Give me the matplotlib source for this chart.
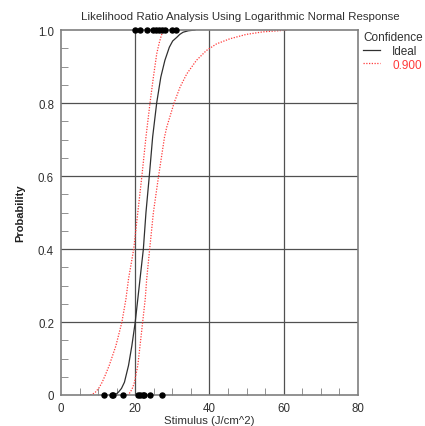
import numpy as np
import matplotlib.pyplot as plt
from matplotlib.ticker import MultipleLocator

plt.rcParams['font.family'] = ['Liberation Sans', 'DejaVu Sans']

# ---------------------------
# Observed responses
# ---------------------------
x_fail = [11.7, 13.7, 14.0, 16.6, 20.7, 21.4, 22.0, 22.5, 23.9, 27.2]
x_pass = [20.0, 21.3, 23.3, 24.8, 25.6, 26.4, 27.2, 28.0, 29.8, 31.1]

# ---------------------------
# Ideal (fitted) curve
# ---------------------------
ideal_x = [14.6, 15.5, 16.3, 17.1, 18.2, 19.1, 20.0, 20.7, 21.3, 22.2, 22.9,
           23.8, 24.7, 25.8, 26.9, 28.0, 29.2, 30.1, 31.2, 32.0, 32.9, 34.3, 36.1]
ideal_p = [0.0, 0.008, 0.018, 0.035, 0.081, 0.135, 0.199, 0.263, 0.318, 0.40, 0.50,
           0.60, 0.707, 0.801, 0.871, 0.917, 0.953, 0.970, 0.980, 0.988, 0.994, 0.998, 1.0]

# ---------------------------
# 0.900 confidence bounds
# ---------------------------
lo_x = [7.9, 8.6, 9.3, 10.2, 11.1, 12.0, 13.0, 14.8, 16.4, 17.5, 18.2, 19.6,
        20.7, 21.8, 22.9, 24.0, 24.9, 25.8, 26.4, 26.9, 27.3, 27.6]
lo_p = [0.0, 0.003, 0.008, 0.019, 0.035, 0.056, 0.081, 0.135, 0.199, 0.263, 0.318, 0.40,
        0.50, 0.60, 0.707, 0.801, 0.871, 0.935, 0.962, 0.980, 0.993, 1.0]

hi_x = [17.8, 18.3, 18.7, 19.3, 19.8, 20.7, 21.3, 22.0, 22.7, 23.1, 23.9, 24.9, 26.3,
        27.9, 28.5, 30.5, 32.1, 33.9, 36.5, 39.2, 41.9, 45.5, 49.9, 54.4, 59.8, 61.1]
hi_p = [0.0, 0.003, 0.008, 0.02, 0.035, 0.081, 0.135, 0.199, 0.263, 0.318, 0.40, 0.50, 0.60,
        0.707, 0.734, 0.801, 0.844, 0.880, 0.917, 0.944, 0.962, 0.976, 0.988, 0.995, 0.999, 1.0]

gray = '#7f7f7f'
red = '#ff3a3a'
dark = '#303030'

fig = plt.figure(figsize=(4.25, 4.27), dpi=100)
ax = fig.add_axes([0.1435, 0.0726, 0.6985, 0.8547])

ax.plot(ideal_x, ideal_p, color=dark, lw=0.9, label='Ideal')
ax.plot(lo_x, lo_p, color=red, lw=0.9, ls=(0, (1, 1.2)), label='0.900')
ax.plot(hi_x, hi_p, color=red, lw=0.9, ls=(0, (1, 1.2)))

ax.scatter(x_fail, np.zeros(len(x_fail)), s=13, color='black', zorder=5, clip_on=False)
ax.scatter(x_pass, np.ones(len(x_pass)), s=13, color='black', zorder=5, clip_on=False)

ax.set_xlim(0, 80)
ax.set_ylim(0, 1)

ax.xaxis.set_major_locator(MultipleLocator(20))
ax.xaxis.set_minor_locator(MultipleLocator(5))
ax.yaxis.set_minor_locator(MultipleLocator(0.05))
ax.set_yticks([0, 0.2, 0.4, 0.6, 0.8, 1.0])
ax.set_yticklabels(['0', '0.2', '0.4', '0.6', '0.8', '1.0'])

ax.tick_params(which='both', direction='in', color=gray, labelsize=8.3,
               labelcolor=dark, top=False, right=False)
ax.tick_params(which='major', length=0, pad=5)
ax.tick_params(which='minor', length=5)

# grid at the major ticks
for x in [20, 40, 60]:
    ax.axvline(x, color='#505050', lw=0.9, zorder=1)
for y in [0.2, 0.4, 0.6, 0.8]:
    ax.axhline(y, color='#505050', lw=0.9, zorder=1)

for s in ax.spines.values():
    s.set_color(gray)
    s.set_linewidth(1.2)

# title is centred over plot + legend area
fig.text(240.5 / 425, 1 - 17.5 / 427,
         'Likelihood Ratio Analysis Using Logarithmic Normal Response',
         fontsize=8.25, color=dark, ha='center', va='center')
ax.set_xlabel('Stimulus (J/cm^2)', fontsize=8.2, color=dark, labelpad=1)
ax.set_ylabel('Probability', fontsize=8, color='#202020', fontweight='bold', labelpad=9)

leg = ax.legend(title='Confidence', loc='upper left', bbox_to_anchor=(0.99, 1.02),
                frameon=False, fontsize=8.5, title_fontsize=8.5,
                handlelength=1.4, handletextpad=1.05, borderaxespad=0.3,
                labelspacing=0.15)
leg._legend_box.align = 'left'
leg.get_title().set_color(dark)
for txt, c in zip(leg.get_texts(), [dark, red]):
    txt.set_color(c)

fig.savefig('out.png', dpi=100)
